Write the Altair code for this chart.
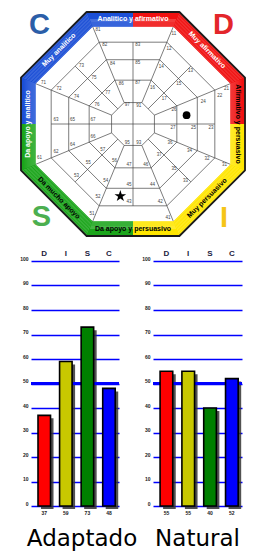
import math
import altair as alt
import pandas as pd

# ---------------- data ----------------
factors = ["D", "I", "S", "C"]
adaptado_values = [37, 59, 73, 48]
natural_values = [55, 55, 40, 52]
bar_colors = ["#ff0000", "#c8c800", "#008000", "#0000ff"]
y_ticks = [0, 10, 20, 30, 40, 50, 60, 70, 80, 90, 100]
panel_titles = ["Adaptado", "Natural"]

# wheel cell numbers (wheel units, centre = 0,0)
cell_codes = ["81", "11", "82", "83", "12", "73", "84", "85", "14", "13", "75", "86", "87", "16",
              "15", "71", "72", "21", "22", "74", "77", "17", "24", "76", "97", "91", "26", "63",
              "65", "67", "27", "25", "23", "66", "64", "95", "93", "36", "34", "62", "57", "61",
              "37", "32", "31", "56", "47", "46", "55", "35", "53", "33", "54", "45", "44", "52",
              "43", "42", "51", "41"]
cell_u = [-36, 42, -29, 5, 37, -53, -21, 5, 29, 59, -40, -12, 5, 20,
          47, -92, -76, 96, 89, -58, -26, 32, 72, -37, -6, 6, 42, -79,
          -62, -41, 41, 62, 80, -41, -62, -6, 6, 38, 58, -79, -31, -96,
          27, 76, 94, -19, -4, 13, -46, 42, -58, 54, -28, -4, 20, -36,
          -4, 28, -42, 36]
cell_v = [97, 92, 81, 81, 77, 60, 62, 63, 59, 54, 47, 41, 42, 37,
          41, 42, 36, 36, 29, 28, 32, 26, 23, 20, 19, 18, 14, 4,
          4, 4, -4, -4, -4, -13, -22, -19, -19, -20, -28, -29, -27, -35,
          -32, -36, -42, -38, -42, -42, -40, -46, -53, -59, -59, -63, -63, -75,
          -80, -80, -92, -96]

band_labels = ["Analitico y afirmativo", "Muy afirmativo", "Afirmativo y persuasivo",
               "Muy persuasivo", "Da apoyo y persuasivo", "Da mucho apoyo",
               "Da apoyo y analitico", "Muy analitico"]
band_label_dirs = [90, 45, 0, 315, 270, 225, 180, 135]
band_label_angles = [0, 45, 90, 315, 0, 45, 270, 315]
band_label_colors = ["#ffffff", "#ffffff", "#000000", "#000000",
                     "#000000", "#000000", "#ffffff", "#ffffff"]

quadrant_starts = [90, 0, 270, 180]
quadrant_colors = ["#f01010", "#ffe600", "#1ba51b", "#1b4fd6"]

corner_letters = ["C", "D", "S", "I"]
corner_u = [-96, 93, -94, 93.5]
corner_v = [101.5, 101.5, -95.5, -96]
corner_colors = ["#2b5ea8", "#e3262b", "#4caf50", "#f5c518"]

marker_names = ["circle", "star"]
marker_u = [55, -13]
marker_v = [9, -74]

STAR_PATH = ("M0,-1L0.2245,-0.309L0.951,-0.309L0.363,0.118L0.588,0.809L0,0.382"
             "L-0.588,0.809L-0.363,0.118L-0.951,-0.309L-0.2245,-0.309Z")

# ---------------- wheel geometry ----------------
R_OUT, R_IN = 115, 100
RINGS = [22, 45, 66, 84]
SEC = 1 / math.cos(math.radians(22.5))


def pt(r, deg):
    return (r * math.cos(math.radians(deg)), r * math.sin(math.radians(deg)))


def octagon(a):
    return [pt(a, 90)] + [pt(a * SEC, 67.5 - 45 * j) for j in range(8)] + [pt(a, 90)]


def add(rows, seg, pts, **extra):
    for i, (u, v) in enumerate(pts):
        d = dict(seg=seg, o=i, u=u, v=v)
        d.update(extra)
        rows.append(d)


grid_rows = []
for a in RINGS:
    add(grid_rows, f"ring{a}", octagon(a))
for j in range(8):
    th = 22.5 + 45 * j
    add(grid_rows, f"vs{j}", [pt(RINGS[0] * SEC, th), pt(R_IN * SEC, th)])
for j in range(8):
    th = 45 * j
    start = 0 if j % 2 == 0 else RINGS[0]
    add(grid_rows, f"es{j}", [pt(start, th), pt(RINGS[-1], th)])

# coloured band: filled by thin concentric strokes per quadrant
band_rows = []
n_strokes = 15
for s, c in zip(quadrant_starts, quadrant_colors):
    for k in range(n_strokes):
        a = R_IN + 0.5 + k * (R_OUT - R_IN - 1) / (n_strokes - 1)
        add(band_rows, f"q{s}_{k}",
            [pt(a, s), pt(a * SEC, s - 22.5), pt(a * SEC, s - 67.5), pt(a, s - 90)],
            color=c)

border_rows = []
add(border_rows, "border", octagon(R_OUT))

R_MID = (R_OUT + R_IN) / 2
band_text = pd.DataFrame({
    "label": band_labels,
    "u": [pt(R_MID, d)[0] for d in band_label_dirs],
    "v": [pt(R_MID, d)[1] for d in band_label_dirs],
    "ang": band_label_angles,
    "color": band_label_colors,
})

# ---------------- wheel chart ----------------
# the wheel view starts where the bar plots start; the octagon overhangs it on the left
WHEEL_W, WHEEL_H = 216, 234
K = 0.974
CX, CY = 102, 116
xs = alt.Scale(domain=[-CX / K, (WHEEL_W - CX) / K], nice=False, zero=False)
ys = alt.Scale(domain=[-(WHEEL_H - CY) / K, CY / K], nice=False, zero=False)
X = alt.X("u:Q", scale=xs, axis=None)
Y = alt.Y("v:Q", scale=ys, axis=None)

grid = alt.Chart(pd.DataFrame(grid_rows)).mark_line(
    color="#444444", strokeWidth=0.7, strokeJoin="round").encode(
    x=X, y=Y, detail="seg:N", order=alt.Order("o:Q"))
band = alt.Chart(pd.DataFrame(band_rows)).mark_line(
    strokeWidth=1.15, strokeJoin="miter", strokeCap="butt").encode(
    x=X, y=Y, detail="seg:N", order=alt.Order("o:Q"), color=alt.Color("color:N", scale=None))
border = alt.Chart(pd.DataFrame(border_rows)).mark_line(
    color="#1a1a1a", strokeWidth=1.8, strokeJoin="round").encode(
    x=X, y=Y, detail="seg:N", order=alt.Order("o:Q"))
cells = alt.Chart(pd.DataFrame({"code": cell_codes, "u": cell_u, "v": cell_v})).mark_text(
    fontSize=4.5, color="#444444", font="Liberation Sans").encode(x=X, y=Y, text="code:N")
btext = alt.Chart(band_text).mark_text(
    fontSize=7, fontWeight="bold", font="Liberation Sans", baseline="middle").encode(
    x=X, y=Y, text="label:N", angle=alt.Angle("ang:Q", scale=None),
    color=alt.Color("color:N", scale=None))
letters = alt.Chart(pd.DataFrame({"t": corner_letters, "u": corner_u, "v": corner_v,
                                  "color": corner_colors})).mark_text(
    fontSize=29, fontWeight="bold", font="Liberation Sans", baseline="middle").encode(
    x=X, y=Y, text="t:N", color=alt.Color("color:N", scale=None))
mk = pd.DataFrame({"kind": marker_names, "u": marker_u, "v": marker_v})
circle = alt.Chart(mk).transform_filter(alt.datum.kind == "circle").mark_point(
    shape="circle", filled=True, color="black", size=60, opacity=1).encode(x=X, y=Y)
star = alt.Chart(mk).transform_filter(alt.datum.kind == "star").mark_point(
    shape=STAR_PATH, filled=True, color="black", size=150, opacity=1).encode(x=X, y=Y)

wheel = alt.layer(grid, band, border, cells, btext, letters, circle, star).properties(
    width=WHEEL_W, height=WHEEL_H)


# ---------------- bar panels ----------------
def panel(values, title, width, title_dx, pad_left):
    df = pd.DataFrame({"factor": factors, "value": values, "color": bar_colors,
                       "label": [str(v) for v in values]})
    xsc = alt.Scale(paddingInner=0.42, paddingOuter=0.25, align=0.65)
    ysc = alt.Scale(domain=[0, 100], nice=False)
    xax = alt.Axis(orient="top", title=None, labelAngle=0, ticks=False, domain=False,
                   labelFontSize=8, labelFontWeight="bold", labelColor="#1c1c40",
                   labelPadding=4, labelFont="Liberation Sans")
    common = dict(values=y_ticks, grid=True, gridColor="#0000ff", gridWidth=1.3,
                  ticks=False, domain=False, labelFontSize=5, labelFontWeight="bold",
                  labelColor="#1a1a1a", labelPadding=3, labelBaseline="bottom")
    if pad_left:
        yax = alt.Axis(title=".", titleColor="transparent", titleFontSize=9, titlePadding=2,
                       minExtent=12, maxExtent=12, **common)
    else:
        yax = alt.Axis(title=None, **common)
    base = alt.Chart(df)
    shadow = base.mark_bar(color="#333333", opacity=0.85, xOffset=3, yOffset=3).encode(
        x=alt.X("factor:N", sort=factors, scale=xsc, axis=xax),
        y=alt.Y("value:Q", scale=ysc, axis=yax))
    mid = base.mark_rule(color="#0000ff", strokeWidth=2.6).encode(
        y=alt.YDatum(50, scale=ysc, axis=yax))
    bars = base.mark_bar(stroke="black", strokeWidth=1.6).encode(
        x=alt.X("factor:N", sort=factors, scale=xsc, axis=xax),
        y=alt.Y("value:Q", scale=ysc, axis=yax),
        color=alt.Color("color:N", scale=None))
    vals = base.mark_text(fontSize=5, fontWeight="bold", color="#222222", baseline="top",
                          dy=5).encode(
        x=alt.X("factor:N", sort=factors, scale=xsc, axis=xax),
        y=alt.YDatum(0, scale=ysc, axis=yax), text="label:N")
    return alt.layer(shadow, mid, bars, vals).properties(
        width=width, height=245,
        title=alt.TitleParams(title, orient="bottom", fontSize=23, font="DejaVu Sans",
                              fontWeight="normal", color="#000000", frame="group",
                              anchor="middle", offset=12, dx=title_dx))


row = alt.hconcat(panel(adaptado_values, panel_titles[0], 88, 7, True),
                  panel(natural_values, panel_titles[1], 89, 0, False),
                  spacing=34, bounds="flush")

chart = alt.vconcat(wheel, row, spacing=7).properties(padding=0).configure_view(
    strokeWidth=0)

chart.save("out.html", embed_options={"renderer": "svg", "actions": False})
